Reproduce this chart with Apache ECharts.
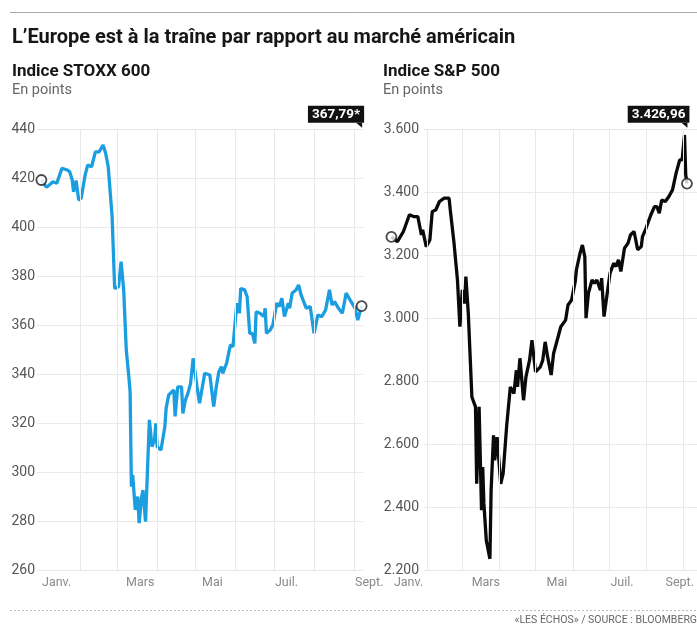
<!DOCTYPE html>
<html>
<head>
<meta charset="utf-8">
<script src="https://cdn.jsdelivr.net/npm/echarts@6/dist/echarts.min.js"></script>
<style>
html,body{margin:0;padding:0;background:#fff;}
#chart{width:697px;height:628px;}
</style>
</head>
<body>
<div id="chart"></div>
<script>
// x values are days since 1 Jan 2020
const monthStarts = [31, 60, 91, 121, 152, 182, 213, 244];
const monthLabels = ['Janv.', 'Mars', 'Mai', 'Juil.', 'Sept.'];
const xLabelPosL = [1.5, 66.8, 125.9, 182.6, 244.9];
const xLabelPosR = [3.1, 67.8, 130.1, 183.3, 229.2];

const stoxxTicks = [260, 280, 300, 320, 340, 360, 380, 400, 420, 440];
const spTicks = [2200, 2400, 2600, 2800, 3000, 3200, 3400, 3600];

const stoxxDays = [1,5,10,13,17,21,23,25,26,28,30,32,35,37,40,43,46,49,51,53,56,58,61,63,65,67,69,70,71,72,74,76,77,79,80,82,84,85,87,89,90,91,94,97,98,100,104,105,107,110,111,113,115,117,119,122,124,126,128,132,135,137,139,141,142,145,148,150,153,155,156,159,161,163,165,167,168,171,174,175,176,179,181,184,186,188,190,193,194,196,199,201,203,207,210,213,216,219,222,225,227,229,232,235,238,241,245,247,250];
const stoxxValues = [419.2,416.2,418.5,417.9,424,423.3,422.6,419.2,414.4,419,411,411.9,421.2,425.3,424.6,430.7,430.7,433.5,430,424.6,404.3,375,375.7,385.9,374.4,350,339,332.9,294.2,299,284.7,290.1,279.3,290,292.8,279.9,307.8,321.4,310.5,313.3,320,310.5,309.1,318.6,326.1,331.6,333.6,322.8,334.9,334.9,324,329.5,332.3,336.3,346.5,334.9,328.2,334.3,340.4,339.7,326.8,334.9,341,343.1,340.4,344.5,352,351.3,369,364.9,375,374.4,371.6,356.7,356.7,352.6,365.5,364.9,363.5,366.9,356.7,358.1,360.1,369,367.6,371,363.5,369,366.9,373.1,374.4,376.4,372.3,366.9,367.6,356.7,364.2,363.5,366.2,374.4,368.3,369.6,366.9,364.9,373.1,370.3,366.9,362.1,367.79];

const spDays = [1,6,11,16,20,23,26,27,30,33,35,38,41,45,49,50,53,56,58,60,62,63,65,68,71,72,74,76,77,78,80,83,84,86,87,89,92,94,97,100,103,105,106,108,111,113,116,118,121,125,127,129,131,134,136,139,142,146,148,151,154,155,158,160,162,163,165,168,170,172,175,176,178,181,183,186,188,190,192,195,198,200,203,206,209,210,213,217,220,222,224,226,229,232,235,238,241,243,245,246,247];
const spValues = [3258,3243,3275,3328,3322,3322,3264,3280,3227,3248,3338,3344,3370,3381,3381,3344,3243,3121,2973,3090,3047,3132,3016,2750,2719,2475,2719,2391,2528,2412,2295,2237,2454,2629,2549,2623,2475,2507,2661,2782,2761,2835,2782,2873,2740,2814,2867,2930,2830,2846,2867,2925,2878,2820,2888,2930,2973,2994,3042,3058,3116,3153,3206,3232,3195,3000,3079,3121,3111,3121,3089,3127,3005,3089,3143,3174,3164,3185,3148,3222,3238,3264,3275,3217,3227,3259,3286,3328,3354,3354,3333,3375,3370,3386,3407,3460,3502,3502,3581,3455,3426.96];

const FONT = 'Roboto, "Noto Sans", sans-serif';
const GRID_COLOR = '#e9e9e9';

function pairs(d, v) { return d.map((x, i) => [x, v[i]]); }
function ends(d, v) { return [[d[0], v[0]], [d[d.length - 1], v[v.length - 1]]]; }
function frNum(v, dec) {
  const s = v.toFixed(dec).split('.');
  const intPart = s[0].replace(/\B(?=(\d{3})+(?!\d))/g, '.');
  return dec ? intPart + ',' + s[1] : intPart;
}
function nearestLabel(pos) {
  return function (v) {
    let best = 0;
    for (let i = 1; i < pos.length; i++) if (Math.abs(pos[i] - v) < Math.abs(pos[best] - v)) best = i;
    return monthLabels[best];
  };
}

const stoxxData = pairs(stoxxDays, stoxxValues);
const spData = pairs(spDays, spValues);

const yLabel = { color: '#555', fontSize: 14, fontFamily: FONT, padding: [0, 0, 4, 0] };
const xLabel = { color: '#8a8a8a', fontSize: 12.5, fontFamily: FONT, align: 'left', margin: 6 };

const tailPath = 'path://M0,0 L6,0 L6,5 Z';
function boxPoint(x, y, text) {
  return {
    symbol: tailPath, symbolSize: [6, 5], symbolOffset: [-2.5, -3.8],
    itemStyle: { color: '#111' },
    data: [{ coord: [x, y], value: text }],
    label: {
      show: true, position: 'top', distance: 0, align: 'right', offset: [5, 0],
      formatter: '{c}', color: '#fff', backgroundColor: '#111',
      fontFamily: FONT, fontSize: 13.5, fontWeight: 'bold', padding: [2, 4, 1, 4], lineHeight: 14
    },
    silent: true
  };
}
function gridLines() {
  return {
    silent: true, symbol: 'none', label: { show: false },
    lineStyle: { color: GRID_COLOR, width: 1, type: 'solid' },
    data: monthStarts.map(d => ({ xAxis: d }))
  };
}

const chart = echarts.init(document.getElementById('chart'), null, { renderer: 'canvas' });
const lastS = stoxxData[stoxxData.length - 1];
const lastP = spData[spData.length - 1];

const headStyle = { fontFamily: FONT, fontWeight: 'bold', fontSize: 17, color: '#161616' };
const subStyle = { fontFamily: FONT, fontSize: 14.5, color: '#666' };

chart.setOption({
  animation: false,
  backgroundColor: '#fff',
  title: [
    { text: 'L’Europe est à la traîne par rapport au marché américain', left: 12, top: 28, padding: 0,
      textStyle: { fontFamily: FONT, fontWeight: 'bold', fontSize: 20, color: '#161616' } },
    { text: 'Indice STOXX 600', subtext: 'En points', left: 12, top: 63, padding: 0, itemGap: 3,
      textStyle: headStyle, subtextStyle: subStyle },
    { text: 'Indice S&P 500', subtext: 'En points', left: 383, top: 63, padding: 0, itemGap: 3,
      textStyle: headStyle, subtextStyle: subStyle }
  ],
  graphic: [
    { type: 'line', shape: { x1: 10, y1: 12.5, x2: 697, y2: 12.5 }, style: { stroke: '#aaa', lineWidth: 1 } },
    { type: 'line', shape: { x1: 10, y1: 610.5, x2: 697, y2: 610.5 }, style: { stroke: '#bbb', lineWidth: 1, lineDash: [2, 2] } },
    { type: 'text', right: 0, top: 615, style: { text: '«LES ÉCHOS» / SOURCE : BLOOMBERG', fill: '#666', fontFamily: FONT, fontSize: 10.5 } }
  ],
  grid: [
    { left: 37, top: 129, width: 325.9, height: 441.5 },
    { left: 424, top: 129, width: 273, height: 441.5 },
    { left: 390.2, top: 129, width: 306.8, height: 441.5 }
  ],
  xAxis: [
    { type: 'value', gridIndex: 0, min: -2.4, max: 251,
      axisLine: { show: false }, axisTick: { show: false }, splitLine: { show: false },
      axisLabel: Object.assign({ customValues: xLabelPosL, formatter: nearestLabel(xLabelPosL) }, xLabel) },
    { type: 'value', gridIndex: 1, min: 27.7, max: 251.3, show: false, splitLine: { show: false } },
    { type: 'value', gridIndex: 2, min: 0, max: 251.3,
      axisLine: { show: false }, axisTick: { show: false }, splitLine: { show: false },
      axisLabel: Object.assign({ customValues: xLabelPosR, formatter: nearestLabel(xLabelPosR) }, xLabel) }
  ],
  yAxis: [
    { type: 'value', gridIndex: 0, min: stoxxTicks[0], max: stoxxTicks[stoxxTicks.length - 1], interval: 20,
      axisLine: { show: false }, axisTick: { show: false },
      splitLine: { lineStyle: { color: GRID_COLOR, width: 1 } },
      axisLabel: Object.assign({ margin: 2 }, yLabel) },
    { type: 'value', gridIndex: 1, min: spTicks[0], max: spTicks[spTicks.length - 1], interval: 200,
      axisLine: { show: false }, axisTick: { show: false },
      splitLine: { lineStyle: { color: GRID_COLOR, width: 1 } },
      axisLabel: Object.assign({ margin: 5, formatter: v => frNum(v, 0) }, yLabel) },
    { type: 'value', gridIndex: 2, min: spTicks[0], max: spTicks[spTicks.length - 1], show: false, splitLine: { show: false } }
  ],
  series: [
    { type: 'line', xAxisIndex: 0, yAxisIndex: 0, z: 1, data: stoxxData, showSymbol: false,
      lineStyle: { opacity: 0 }, silent: true, markLine: gridLines() },
    { type: 'line', xAxisIndex: 2, yAxisIndex: 2, z: 1, data: spData, showSymbol: false,
      lineStyle: { opacity: 0 }, silent: true, markLine: gridLines() },
    { type: 'line', xAxisIndex: 0, yAxisIndex: 0, z: 3, data: stoxxData, showSymbol: false,
      lineStyle: { color: '#1b9ee0', width: 3.3 }, silent: true },
    { type: 'line', xAxisIndex: 2, yAxisIndex: 2, z: 3, data: spData, showSymbol: false,
      lineStyle: { color: '#0a0a0a', width: 3.3 }, silent: true },
    { type: 'scatter', xAxisIndex: 0, yAxisIndex: 0, z: 5, data: ends(stoxxDays, stoxxValues),
      symbolSize: 10, itemStyle: { color: '#fff', borderColor: '#1a1a1a', borderWidth: 1.8 }, silent: true,
      markPoint: boxPoint(lastS[0], stoxxTicks[stoxxTicks.length - 1], frNum(lastS[1], 2) + '*') },
    { type: 'scatter', xAxisIndex: 2, yAxisIndex: 2, z: 5, data: ends(spDays, spValues),
      symbolSize: 10, itemStyle: { color: '#fff', borderColor: '#1a1a1a', borderWidth: 1.8 }, silent: true,
      markPoint: boxPoint(lastP[0], spTicks[spTicks.length - 1], frNum(lastP[1], 2)) }
  ]
});
</script>
</body>
</html>
